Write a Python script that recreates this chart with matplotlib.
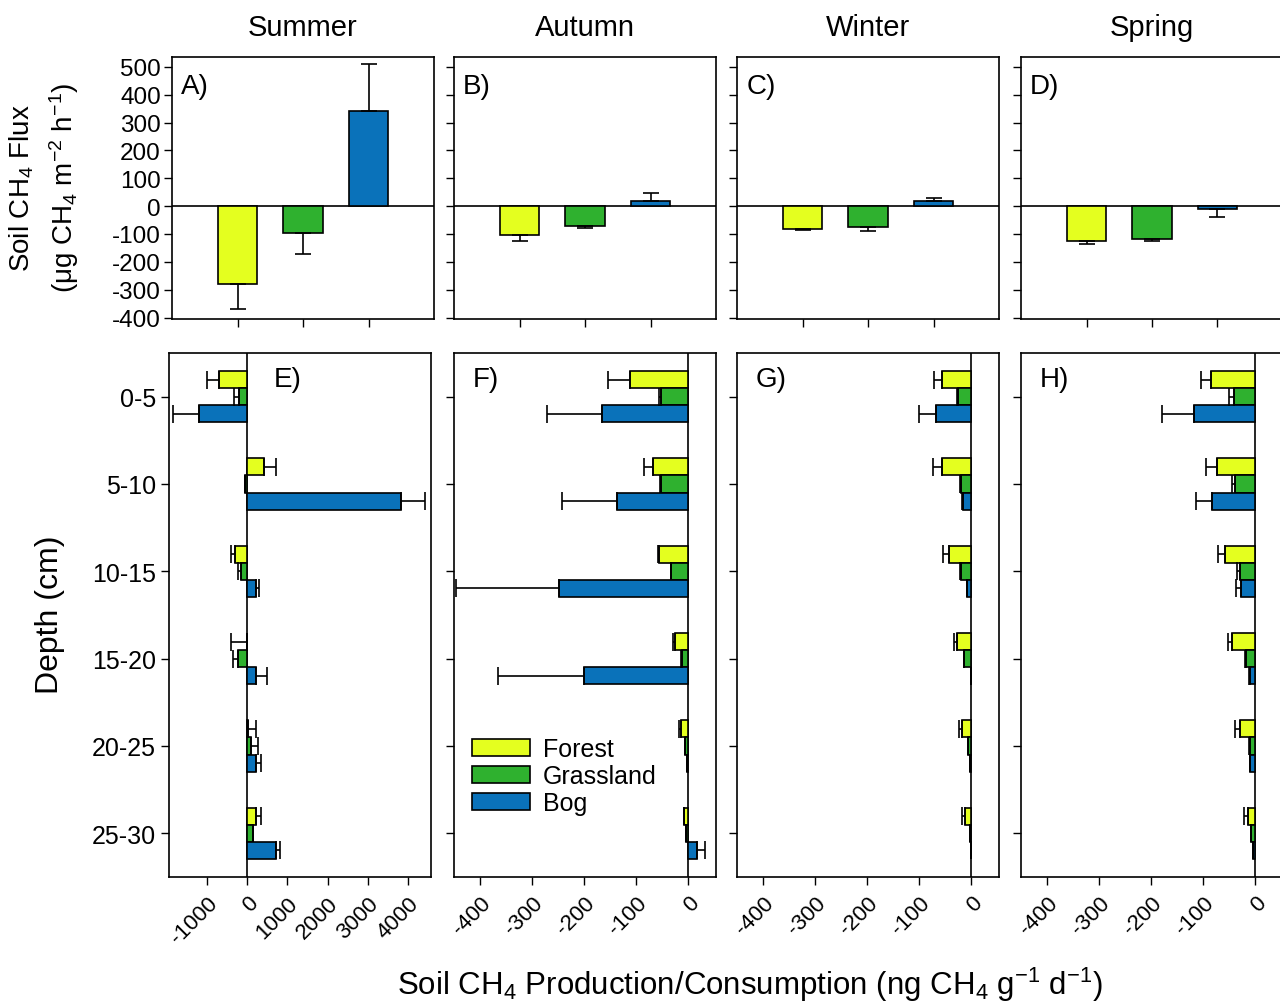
import matplotlib
matplotlib.use('Agg')
import matplotlib.pyplot as plt
import numpy as np

plt.rcParams['font.family'] = ['Liberation Sans', 'DejaVu Sans']
plt.rcParams['mathtext.fontset'] = 'custom'
plt.rcParams['mathtext.rm'] = 'Liberation Sans'
plt.rcParams['mathtext.it'] = 'Liberation Sans'
plt.rcParams['mathtext.default'] = 'regular'
plt.rcParams['axes.unicode_minus'] = False

seasons = ['Summer', 'Autumn', 'Winter', 'Spring']
top_tags = ['A)', 'B)', 'C)', 'D)']
bottom_tags = ['E)', 'F)', 'G)', 'H)']
land_uses = ['Forest', 'Grassland', 'Bog']
depths = ['0-5', '5-10', '10-15', '15-20', '20-25', '25-30']
colors = ['#e4ff1f', '#2fb12f', '#0a72ba']

# field flux (ug CH4 m-2 h-1), one value per season
flux_forest = [-280, -104, -82, -125]
flux_forest_err = [90, 21, 4, 11]
flux_grass = [-95, -72, -75, -118]
flux_grass_err = [75, 6, 14, 7]
flux_bog = [340, 18, 18, -12]
flux_bog_err = [170, 29, 11, 28]

# soil incubations (ng CH4 g-1 d-1), one value per depth
summer_forest = [-717, 425, -300, -10, 17, 217]
summer_forest_err = [275, 300, 100, 390, 208, 125]
summer_grass = [-217, -67, -150, -233, 92, 133]
summer_grass_err = [125, 0, 83, 125, 183, 20]
summer_bog = [-1192, 3825, 217, 217, 217, 725]
summer_bog_err = [650, 600, 83, 275, 125, 100]

autumn_forest = [-113, -67, -56, -26, -14, -8]
autumn_forest_err = [41, 19, 2, 3, 4, 1]
autumn_grass = [-52, -53, -33, -12, -6, -4]
autumn_grass_err = [4, 2, 0, 2, 1, 0]
autumn_bog = [-166, -138, -249, -200, -2, 16]
autumn_bog_err = [105, 105, 198, 165, 0, 15]

winter_forest = [-56, -56, -43, -27, -18, -12]
winter_forest_err = [15, 18, 12, 6, 6, 6]
winter_grass = [-25, -19, -20, -14, -6, -3]
winter_grass_err = [2, 2, 2, 1, 1, 0]
winter_bog = [-67, -16, -8, -1, -3, -1]
winter_bog_err = [33, 2, 1, 0, 0, 0]

spring_forest = [-85, -73, -58, -45, -30, -15]
spring_forest_err = [20, 22, 13, 8, 10, 7]
spring_grass = [-42, -40, -29, -18, -11, -8]
spring_grass_err = [9, 4, 7, 2, 2, 1]
spring_bog = [-118, -83, -27, -10, -10, -4]
spring_bog_err = [61, 31, 10, 2, 1, 0]

profiles = [
    [(summer_forest, summer_forest_err), (summer_grass, summer_grass_err), (summer_bog, summer_bog_err)],
    [(autumn_forest, autumn_forest_err), (autumn_grass, autumn_grass_err), (autumn_bog, autumn_bog_err)],
    [(winter_forest, winter_forest_err), (winter_grass, winter_grass_err), (winter_bog, winter_bog_err)],
    [(spring_forest, spring_forest_err), (spring_grass, spring_grass_err), (spring_bog, spring_bog_err)],
]


def one_sided(vals, errs):
    # error bars only point away from zero
    vals = np.asarray(vals, float)
    errs = np.asarray(errs, float)
    lo = np.where(vals < 0, errs, 0)
    hi = np.where(vals >= 0, errs, 0)
    return np.vstack([lo, hi])


W, H = 1280, 1003
fig = plt.figure(figsize=(W / 100, H / 100), dpi=100)

def px_axes(x0, y0, x1, y1):
    return fig.add_axes([x0 / W, 1 - y1 / H, (x1 - x0) / W, (y1 - y0) / H])

top_left = [172, 454, 737, 1021]
bot_left = [169, 454, 737, 1021]
panel_w = 262
lw = 1.2

# ---- top row: field fluxes
flux_vals = [flux_forest, flux_grass, flux_bog]
flux_errs = [flux_forest_err, flux_grass_err, flux_bog_err]
for k in range(4):
    ax = px_axes(top_left[k], 58, top_left[k] + panel_w, 320)
    xs = np.arange(1, 4)
    v = [flux_vals[j][k] for j in range(3)]
    e = [flux_errs[j][k] for j in range(3)]
    ax.bar(xs, v, width=0.6, color=colors, edgecolor='black', linewidth=lw, zorder=2)
    ax.errorbar(xs, v, yerr=one_sided(v, e), fmt='none', ecolor='black',
                elinewidth=lw, capsize=5.5, capthick=lw, zorder=3)
    ax.axhline(0, color='black', linewidth=lw, zorder=1)
    ax.set_xlim(0, 4)
    ax.set_ylim(-405, 535)
    ax.set_xticks(xs)
    ax.set_xticklabels([])
    ax.set_yticks(np.arange(-400, 501, 100))
    if k == 0:
        ax.tick_params(axis='y', labelsize=17.5, pad=2)
    else:
        ax.set_yticklabels([])
    ax.tick_params(direction='out', length=6, width=1, top=False, right=False)
    for s in ax.spines.values():
        s.set_linewidth(lw)
    fig.text((top_left[k] + panel_w / 2) / W, 1 - 28 / H, seasons[k],
             fontsize=21, ha='center', va='center')
    ax.text(0.035, 0.94, top_tags[k], transform=ax.transAxes, fontsize=20,
            va='top', ha='left')

fig.text(22 / W, 1 - 188 / H, 'Soil CH$_4$ Flux', rotation=90, fontsize=20,
         ha='center', va='center')
fig.text(64 / W, 1 - 188 / H, '(\u03bcg CH$_4$ m$^{-2}$ h$^{-1}$)', rotation=90,
         fontsize=20, ha='center', va='center')

# ---- bottom row: depth profiles
ypos = np.arange(len(depths))
offsets = [-0.195, 0.0, 0.195]
bar_h = 0.195
xlims = [(-1950, 4575), (-450, 53), (-450, 53), (-450, 53)]
xticks = [np.arange(-1000, 4001, 1000), np.arange(-400, 1, 100),
          np.arange(-400, 1, 100), np.arange(-400, 1, 100)]
for k in range(4):
    ax = px_axes(bot_left[k], 354, bot_left[k] + panel_w, 878)
    for j in range(3):
        vals, errs = profiles[k][j]
        ax.barh(ypos + offsets[j], vals, height=bar_h, color=colors[j],
                edgecolor='black', linewidth=lw, zorder=2, label=land_uses[j])
        ax.errorbar(vals, ypos + offsets[j], xerr=one_sided(vals, errs), fmt='none',
                    ecolor='black', elinewidth=lw, capsize=6.5, capthick=lw, zorder=3)
    ax.axvline(0, color='black', linewidth=lw, zorder=1)
    ax.set_xlim(*xlims[k])
    ax.set_ylim(5.5, -0.5)
    ax.set_yticks(ypos)
    ax.set_xticks(xticks[k])
    ax.set_xticklabels([str(t) for t in xticks[k]], rotation=45, ha='right',
                       rotation_mode='anchor', fontsize=16)
    if k == 0:
        ax.set_yticklabels(depths, fontsize=18)
    else:
        ax.set_yticklabels([])
    ax.tick_params(direction='out', length=6, width=1, top=False, right=False)
    ax.tick_params(axis='x', pad=5)
    for s in ax.spines.values():
        s.set_linewidth(lw)
    tx = 0.4 if k == 0 else 0.07
    ax.text(tx, 0.975, bottom_tags[k], transform=ax.transAxes, fontsize=20,
            va='top', ha='left')
    if k == 1:
        ax.legend(loc='center left', bbox_to_anchor=(472 / W, 1 - 777 / H),
                  bbox_transform=fig.transFigure, frameon=False, fontsize=18,
                  handlelength=2.3, handleheight=0.65, handletextpad=0.55,
                  labelspacing=0.12, borderpad=0, borderaxespad=0)

fig.text(50 / W, 1 - 615 / H, 'Depth (cm)', rotation=90, fontsize=23,
         ha='center', va='center')
fig.text(750 / W, 1 - 985 / H,
         'Soil CH$_4$ Production/Consumption (ng CH$_4$ g$^{-1}$ d$^{-1}$)',
         fontsize=22.5, ha='center', va='center')

fig.savefig('out.png', dpi=100)
